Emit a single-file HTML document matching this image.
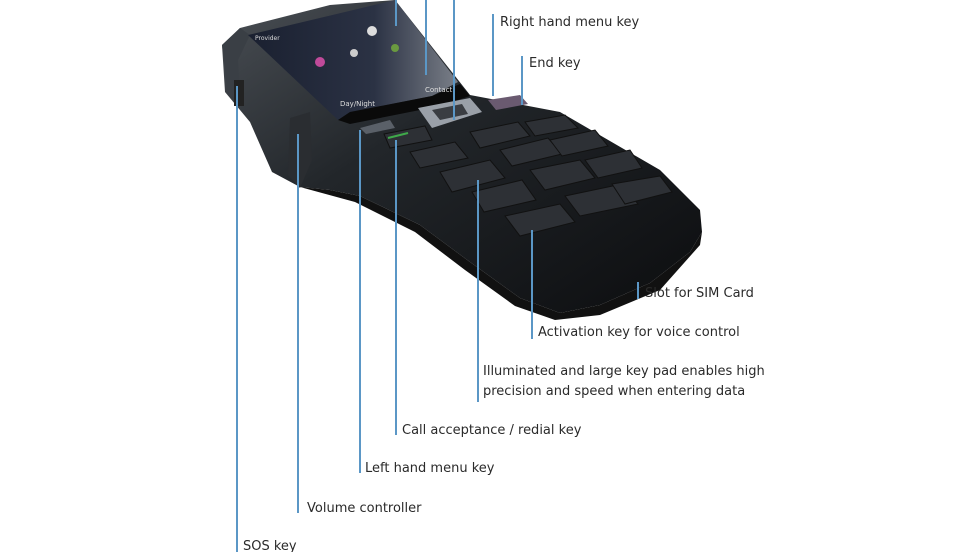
<!DOCTYPE html>
<html><head><meta charset="utf-8"><style>
html,body{margin:0;padding:0;background:#fff;width:980px;height:552px;overflow:hidden}
svg{display:block}
text{font-family:"DejaVu Sans","Liberation Sans",sans-serif;font-size:13px;fill:#2a2a2a}
</style></head><body>
<svg width="980" height="552" viewBox="0 0 980 552" xmlns="http://www.w3.org/2000/svg">
<defs>
<linearGradient id="body" x1="0" y1="0" x2="1" y2="1">
<stop offset="0" stop-color="#4a4f55"/><stop offset="0.4" stop-color="#22262a"/><stop offset="1" stop-color="#0c0d0f"/>
</linearGradient>
<linearGradient id="scr" x1="0" y1="0" x2="1" y2="0">
<stop offset="0" stop-color="#1a2030"/><stop offset="0.6" stop-color="#2b3244"/><stop offset="1" stop-color="#7a7f88"/>
</linearGradient>
</defs>
<polygon fill="url(#body)" points="222,45 240,28 330,5 395,0 470,95 560,112 660,170 700,210 702,232 690,252 650,283 600,305 560,313 520,298 470,262 420,225 360,196 330,190 300,187 272,172 250,122 225,92"/>
<polygon fill="#111" points="300,187 330,190 360,196 420,225 470,262 520,298 560,313 600,305 650,283 690,252 702,232 700,245 660,290 600,315 555,320 515,306 465,270 415,232 355,202"/>
<polygon fill="#3a3f45" points="222,45 240,28 250,35 238,60 240,100 228,95"/>
<rect x="234" y="80" width="10" height="26" fill="#222"/>
<polygon fill="#2a2d31" points="290,118 310,112 312,160 300,188 288,175"/>
<polygon fill="url(#scr)" points="248,35 345,12 395,0 458,82 432,96 350,112 338,120"/>
<polygon fill="#0a0a0a" points="338,120 350,112 432,96 460,84 470,96 440,106 350,124"/>
<text x="255" y="40" style="font-size:6px;fill:#ddd">Provider</text>
<text x="340" y="106" style="font-size:7px;fill:#ddd">Day/Night</text>
<text x="425" y="92" style="font-size:7px;fill:#ddd">Contact</text>
<circle cx="320" cy="62" r="5" fill="#c04a9a"/><circle cx="372" cy="31" r="5" fill="#ddd"/><circle cx="354" cy="53" r="4" fill="#ccc"/><circle cx="395" cy="48" r="4" fill="#6a9a40"/>
<polygon fill="#9aa0a8" points="418,108 470,98 482,112 432,128"/>
<polygon fill="#3a3d42" points="432,110 462,104 468,114 440,120"/>
<g fill="#2d3035" stroke="#111" stroke-width="1">
<polygon points="384,134 425,126 432,140 390,148"/>
<polygon points="410,152 455,142 468,158 420,168"/>
<polygon points="470,132 518,122 530,136 480,148"/>
<polygon points="525,122 565,115 578,128 535,136"/>
<polygon points="440,172 490,160 505,178 452,192"/>
<polygon points="500,150 548,138 562,154 512,166"/>
<polygon points="550,140 595,130 608,146 562,156"/>
<polygon points="472,192 522,180 536,200 484,212"/>
<polygon points="530,170 580,160 595,178 545,190"/>
<polygon points="585,160 630,150 642,168 598,178"/>
<polygon points="505,216 560,204 575,222 520,236"/>
<polygon points="565,196 622,184 638,204 580,216"/>
<polygon points="612,184 660,176 672,192 625,204"/>
</g>
<polygon fill="#5a6068" points="360,128 390,120 395,128 366,134"/>
<line x1="388" y1="138" x2="408" y2="133" stroke="#3fa94a" stroke-width="2"/>
<polygon fill="#6a5a70" points="488,100 520,95 528,104 496,110"/>
<g stroke="#5b97c6" stroke-width="2" fill="none">
<line x1="396" y1="0" x2="396" y2="26"/>
<line x1="426" y1="0" x2="426" y2="75"/>
<line x1="454" y1="0" x2="454" y2="120"/>
<line x1="493" y1="14" x2="493" y2="96"/>
<line x1="522" y1="56" x2="522" y2="105"/>
<line x1="237" y1="86" x2="237" y2="552"/>
<line x1="298" y1="134" x2="298" y2="513"/>
<line x1="360" y1="130" x2="360" y2="473"/>
<line x1="396" y1="140" x2="396" y2="435"/>
<line x1="478" y1="180" x2="478" y2="402"/>
<line x1="532" y1="230" x2="532" y2="339"/>
<line x1="638" y1="282" x2="638" y2="299"/>
</g>
<text x="500" y="26">Right hand menu key</text>
<text x="529" y="67">End key</text>
<text x="645" y="297">Slot for SIM Card</text>
<text x="538" y="336">Activation key for voice control</text>
<text x="483" y="375">Illuminated and large key pad enables high</text>
<text x="483" y="395">precision and speed when entering data</text>
<text x="402" y="434">Call acceptance / redial key</text>
<text x="365" y="472">Left hand menu key</text>
<text x="307" y="512">Volume controller</text>
<text x="243" y="550">SOS key</text>
</svg>
</body></html>
